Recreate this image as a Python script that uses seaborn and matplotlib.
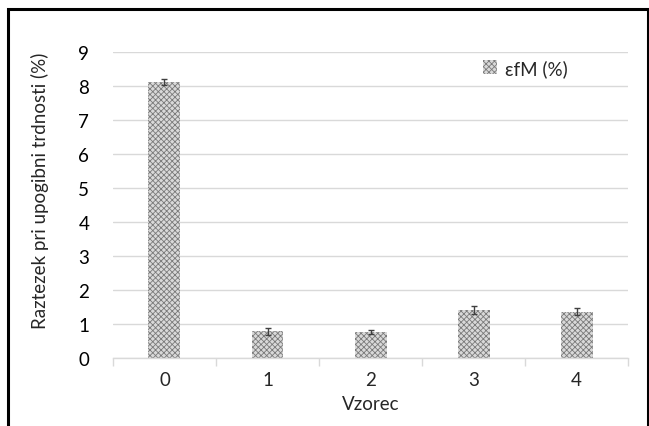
import matplotlib
matplotlib.use("Agg")
import matplotlib.pyplot as plt
import seaborn as sns
import pandas as pd
from matplotlib.patches import Patch, Rectangle

# data
vzorec = ['0', '1', '2', '3', '4']
raztezek = [8.12, 0.79, 0.77, 1.42, 1.37]
napaka = [0.08, 0.10, 0.05, 0.12, 0.10]

df = pd.DataFrame({'Vzorec': vzorec, 'Raztezek': raztezek})

sns.set_theme(style='white')
plt.rcParams['font.family'] = ['Lato', 'DejaVu Sans']
plt.rcParams['hatch.color'] = '#7a7a7a'
plt.rcParams['hatch.linewidth'] = 0.6

fig = plt.figure(figsize=(6.49, 4.27), dpi=100)
ax = fig.add_axes([0.174, 0.159, 0.794, 0.717])

hatch = 'xxxxxx'
sns.barplot(data=df, x='Vzorec', y='Raztezek', errorbar=None, width=0.31,
            color='#d9d9d9', saturation=1, ax=ax)
for p in ax.patches:
    p.set_hatch(hatch)
    p.set_edgecolor('#7a7a7a')
    p.set_linewidth(0)

ax.errorbar(range(len(vzorec)), raztezek, yerr=napaka, fmt='none',
            ecolor='#404040', elinewidth=1, capsize=2.5, capthick=1)

ax.set_ylim(0, 9)
ax.set_xlim(-0.5, 4.5)
ax.set_yticks(range(10))
ax.yaxis.grid(True, color='#d9d9d9', linewidth=1)
ax.set_axisbelow(True)
for s in ['top', 'right', 'left']:
    ax.spines[s].set_visible(False)
ax.spines['bottom'].set_color('#d9d9d9')
ax.spines['bottom'].set_linewidth(1)

ax.tick_params(axis='y', length=0, labelsize=13.5, colors='#000000', pad=17)
ax.tick_params(axis='x', which='major', length=0, labelsize=13.5, pad=9)
ax.set_xticks([i - 0.5 for i in range(6)], minor=True)
ax.tick_params(axis='x', which='minor', length=6, color='#d9d9d9', width=1, bottom=True)

ax.set_xlabel('Vzorec', fontsize=13.5, labelpad=5)
ax.set_ylabel('Raztezek pri upogibni trdnosti (%)', fontsize=13.5)
ax.yaxis.set_label_coords(-0.124, 0.55)

handle = Patch(facecolor='#d9d9d9', edgecolor='#7a7a7a', hatch=hatch, linewidth=0)
ax.legend([handle], ['εfM (%)'], loc='center right', bbox_to_anchor=(0.90, 0.948),
          frameon=False, fontsize=13.5, handlelength=0.75, handleheight=0.75,
          handletextpad=0.4, borderpad=0)

# outer frame around the chart
fig.patches.append(Rectangle((8 / 649, -0.05), 640 / 649, 1.05 - 10 / 427,
                             transform=fig.transFigure, fill=False,
                             edgecolor='black', linewidth=2.2))

fig.savefig('out.png', dpi=100)
